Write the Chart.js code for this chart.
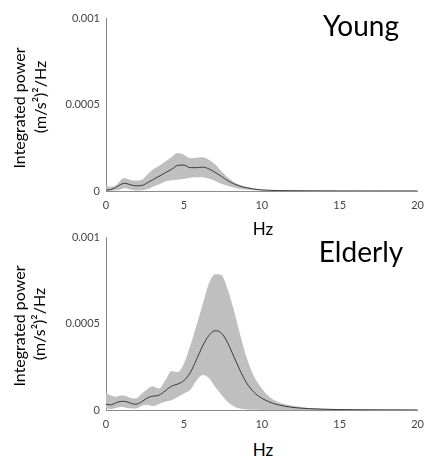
<!DOCTYPE html>
<html>
<head>
<meta charset="utf-8">
<script src="https://cdn.jsdelivr.net/npm/chart.js@4"></script>
<style>
  html, body { margin: 0; padding: 0; background: #fff; }
  #page { position: relative; width: 432px; height: 459px; overflow: hidden; font-family: Lato, "Open Sans", sans-serif; color: #000; }
  .panel { position: absolute; left: 0; width: 432px; height: 215px; }
  .lbl { position: absolute; white-space: nowrap; line-height: 1; transform: translate(-50%, -50%); }
  .rot { transform: translate(-50%, -50%) rotate(-90deg); }
  .ytitle { font-size: 16px; }
  .xtitle { font-size: 17px; }
  .ptitle { font-size: 28px; }
</style>
</head>
<body>
<div id="page">
  <div class="panel" style="top:0"><canvas id="chartYoung"></canvas></div>
  <div class="panel" style="top:219px"><canvas id="chartElderly"></canvas></div>

  <div class="lbl ptitle" style="left:361px; top:25px">Young</div>
  <div class="lbl ptitle" style="left:361px; top:251px">Elderly</div>

  <div class="lbl rot ytitle" style="left:19px; top:108px">Integrated power</div>
  <div class="lbl rot ytitle" style="left:40px; top:97px">(m/s²)²/Hz</div>
  <div class="lbl rot ytitle" style="left:19px; top:326px">Integrated power</div>
  <div class="lbl rot ytitle" style="left:39px; top:324px">(m/s²)²/Hz</div>

  <div class="lbl xtitle" style="left:263px; top:228px">Hz</div>
  <div class="lbl xtitle" style="left:263px; top:449px">Hz</div>
</div>

<script>
'use strict';

// ── Data, frequency in Hz, power in (m/s²)²/Hz ──
const freqs = [0, 0.3, 0.6, 1.0, 1.2, 1.5, 1.9, 2.3, 2.7, 3.0, 3.4, 3.8, 4.2, 4.6, 5.0, 5.4, 5.8, 6.2,
               6.6, 7.0, 7.4, 7.8, 8.2, 8.6, 9.0, 9.5, 10, 10.5, 11, 12, 13, 14, 15, 16, 18, 20];

const youngMean  = [0.000006, 0.000008, 0.000020, 0.000040, 0.000045, 0.000038, 0.000030, 0.000032, 0.000050,
                    0.000065, 0.000085, 0.000105, 0.000125, 0.000148, 0.000150, 0.000135, 0.000135, 0.000138,
                    0.000128, 0.000108, 0.000085, 0.000060, 0.000042, 0.000028, 0.000019, 0.000011, 0.000006,
                    0.000004, 0.0000025, 0.0000015, 0.000001, 0.0000007, 0.0000005, 0.0000004, 0.0000002, 0.0000001];
const youngUpper = [0.000028, 0.000025, 0.000030, 0.000068, 0.000075, 0.000065, 0.000060, 0.000065, 0.000100,
                    0.000125, 0.000145, 0.000170, 0.000195, 0.000220, 0.000210, 0.000190, 0.000192, 0.000195,
                    0.000180, 0.000155, 0.000115, 0.000080, 0.000052, 0.000035, 0.000024, 0.000015, 0.000009,
                    0.000006, 0.000004, 0.0000025, 0.0000015, 0.000001, 0.0000007, 0.0000005, 0.0000003, 0.0000002];
const youngLower = [0, 0.000002, 0.000003, 0.000012, 0.000018, 0.000010, 0.000003, 0.000005, 0.000012,
                    0.000025, 0.000038, 0.000055, 0.000062, 0.000067, 0.000070, 0.000077, 0.000079, 0.000080,
                    0.000072, 0.000058, 0.000042, 0.000030, 0.000020, 0.000012, 0.000008, 0.000005, 0.000003,
                    0.000002, 0.000001, 0.0000005, 0.0000003, 0.0000002, 0.0000001, 0, 0, 0];

const elderlyMean  = [0.000033, 0.000030, 0.000040, 0.000050, 0.000050, 0.000042, 0.000033, 0.000048, 0.000072,
                      0.000080, 0.000086, 0.000110, 0.000138, 0.000150, 0.000170, 0.000215, 0.000290, 0.000370,
                      0.000430, 0.000458, 0.000445, 0.000390, 0.000310, 0.000230, 0.000160, 0.000102, 0.000068,
                      0.000046, 0.000031, 0.000015, 0.000008, 0.0000045, 0.0000025, 0.0000015, 0.0000007, 0.0000003];
const elderlyUpper = [0.000096, 0.000085, 0.000077, 0.000084, 0.000082, 0.000072, 0.000067, 0.000096, 0.000125,
                      0.000138, 0.000124, 0.000170, 0.000226, 0.000220, 0.000268, 0.000370, 0.000485, 0.000610,
                      0.000730, 0.000785, 0.000780, 0.000700, 0.000580, 0.000440, 0.000310, 0.000195, 0.000125,
                      0.000075, 0.000048, 0.000024, 0.000012, 0.000007, 0.000004, 0.0000025, 0.000001, 0.0000005];
const elderlyLower = [0.000008, 0.000006, 0.000012, 0.000017, 0.000015, 0.000010, 0.000008, 0.000025, 0.000030,
                      0.000022, 0.000035, 0.000048, 0.000056, 0.000075, 0.000095, 0.000115, 0.000170, 0.000203,
                      0.000185, 0.000135, 0.000090, 0.000048, 0.000022, 0.000008, 0.000003, 0.000001, 0.0000005,
                      0, 0, 0, 0, 0, 0, 0, 0, 0];

const xTicks = [0, 5, 10, 15, 20];
const yTicks = [0, 0.0005, 0.001];
const yTickLabels = ['0', '0.0005', '0.001'];

const BAND = '#bfbfbf';
const LINE = '#3a3a3a';
const AXIS = '#8c8c8c';
const TICK_FONT = { family: 'Lato, "Open Sans", sans-serif', size: 11 };

const toPoints = (ys) => ys.map((y, i) => ({ x: freqs[i], y }));

function makeChart(id, mean, upper, lower) {
    const ctx = document.getElementById(id);
    return new Chart(ctx, {
        type: 'line',
        data: {
            datasets: [
                { label: 'mean', data: toPoints(mean), borderColor: LINE, borderWidth: 1, fill: false },
                { label: 'upper', data: toPoints(upper), borderWidth: 0, borderColor: 'transparent',
                  backgroundColor: BAND, fill: '+1' },
                { label: 'lower', data: toPoints(lower), borderWidth: 0, borderColor: 'transparent', fill: false }
            ]
        },
        options: {
            responsive: false,
            animation: false,
            events: [],
            layout: { padding: { top: 18, right: 6, left: 0, bottom: 0 } },
            elements: {
                point: { radius: 0 },
                line: { cubicInterpolationMode: 'monotone' }
            },
            plugins: { legend: { display: false }, tooltip: { enabled: false } },
            scales: {
                x: {
                    type: 'linear', min: 0, max: 20,
                    afterBuildTicks: (s) => { s.ticks = xTicks.map(v => ({ value: v })); },
                    afterFit: (s) => { s.height = 24; },
                    grid: { display: false, drawTicks: false },
                    border: { color: AXIS, width: 1 },
                    ticks: { padding: 8, color: '#444', font: TICK_FONT, maxRotation: 0 }
                },
                y: {
                    type: 'linear', min: 0, max: 0.001,
                    afterBuildTicks: (s) => { s.ticks = yTicks.map(v => ({ value: v })); },
                    afterFit: (s) => { s.width = 106; },
                    grid: { display: false, drawTicks: false },
                    border: { color: AXIS, width: 1 },
                    ticks: { padding: 6, color: '#444', font: TICK_FONT,
                             callback: (v) => yTickLabels[yTicks.indexOf(v)] ?? '' }
                }
            }
        }
    });
}

['chartYoung', 'chartElderly'].forEach(id => {
    const c = document.getElementById(id);
    c.width = 432; c.height = 215;
    c.style.width = '432px'; c.style.height = '215px';
});

makeChart('chartYoung', youngMean, youngUpper, youngLower);
makeChart('chartElderly', elderlyMean, elderlyUpper, elderlyLower);
</script>
</body>
</html>
